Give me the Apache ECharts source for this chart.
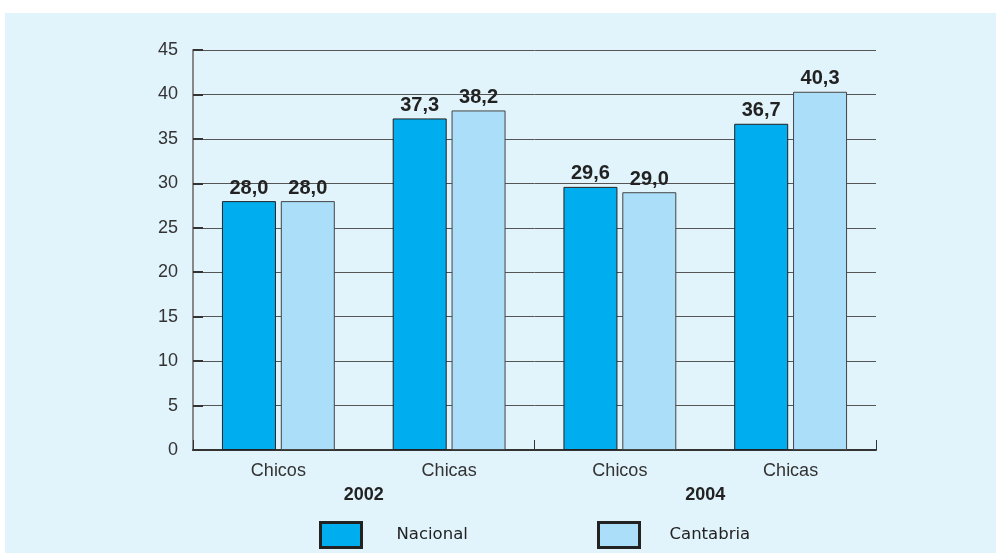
<!DOCTYPE html>
<html><head><meta charset="utf-8">
<script src="https://cdn.jsdelivr.net/npm/echarts@6/dist/echarts.min.js"></script>
<style>html,body{margin:0;padding:0;background:#fff;}#c{position:absolute;left:5px;top:13px;width:991px;height:540px;}</style>
</head><body><div id="c"></div>
<script>
const categories = ['Chicos', 'Chicas', 'Chicos', 'Chicas'];
const years = ['2002', '2004'];
const nacional = [28.0, 37.3, 29.6, 36.7];
const cantabria = [28.0, 38.2, 29.0, 40.3];
const seriesNames = ['Nacional', 'Cantabria'];

const chart = echarts.init(document.getElementById('c'));
const fmt = p => p.value.toFixed(1).replace('.', ',');
const lbl = {show: true, position: 'top', distance: 3, formatter: fmt, fontFamily: 'Liberation Sans', fontWeight: 'bold', fontSize: 20, color: '#222'};
chart.setOption({
  backgroundColor: '#e1f3fb',
  animation: false,
  grid: {left: 188, right: 120, top: 37, bottom: 103},
  legend: [
    {data: [seriesNames[0]], icon: 'rect', left: 314, top: 508, padding: 0, itemWidth: 41, itemHeight: 25,
     itemStyle: {borderColor: '#222', borderWidth: 3},
     textStyle: {fontFamily: 'DejaVu Sans', fontSize: 16.5, color: '#222', padding: [0, 0, 0, 30]}},
    {data: [seriesNames[1]], icon: 'rect', left: 592, top: 508, padding: 0, itemWidth: 41, itemHeight: 25,
     itemStyle: {borderColor: '#222', borderWidth: 3},
     textStyle: {fontFamily: 'DejaVu Sans', fontSize: 16.5, color: '#222', padding: [0, 0, 0, 25]}}
  ],
  xAxis: [
    {type: 'category', data: categories, position: 'bottom',
     axisLine: {lineStyle: {color: '#333', width: 2}},
     axisTick: {show: true, inside: true, length: 10, interval: 1, lineStyle: {color: '#333', width: 1}},
     axisLabel: {margin: 12, fontFamily: 'Liberation Sans', fontSize: 18, color: '#333'}},
    {type: 'category', data: years, position: 'bottom',
     axisLine: {show: false}, axisTick: {show: false},
     axisLabel: {margin: 36, fontFamily: 'Liberation Sans', fontSize: 18, fontWeight: 'bold', color: '#222'}}
  ],
  yAxis: {type: 'value', min: 0, max: 45, interval: 5,
    axisLine: {show: true, lineStyle: {color: '#888', width: 2}},
    axisTick: {show: true, inside: true, length: 10, lineStyle: {color: '#333', width: 2}},
    axisLabel: {margin: 15, fontFamily: 'Liberation Sans', fontSize: 18, color: '#333'},
    splitLine: {show: true, lineStyle: {color: '#555', width: 1}}},
  series: [
    {name: seriesNames[0], type: 'bar', xAxisIndex: 0, data: nacional, barWidth: 54, barGap: '9%',
     itemStyle: {color: '#00aeef', borderColor: '#222', borderWidth: 1}, label: lbl},
    {name: seriesNames[1], type: 'bar', xAxisIndex: 0, data: cantabria, barWidth: 54, barGap: '9%',
     itemStyle: {color: '#abdff9', borderColor: '#444', borderWidth: 1}, label: lbl}
  ]
});
</script></body></html>
